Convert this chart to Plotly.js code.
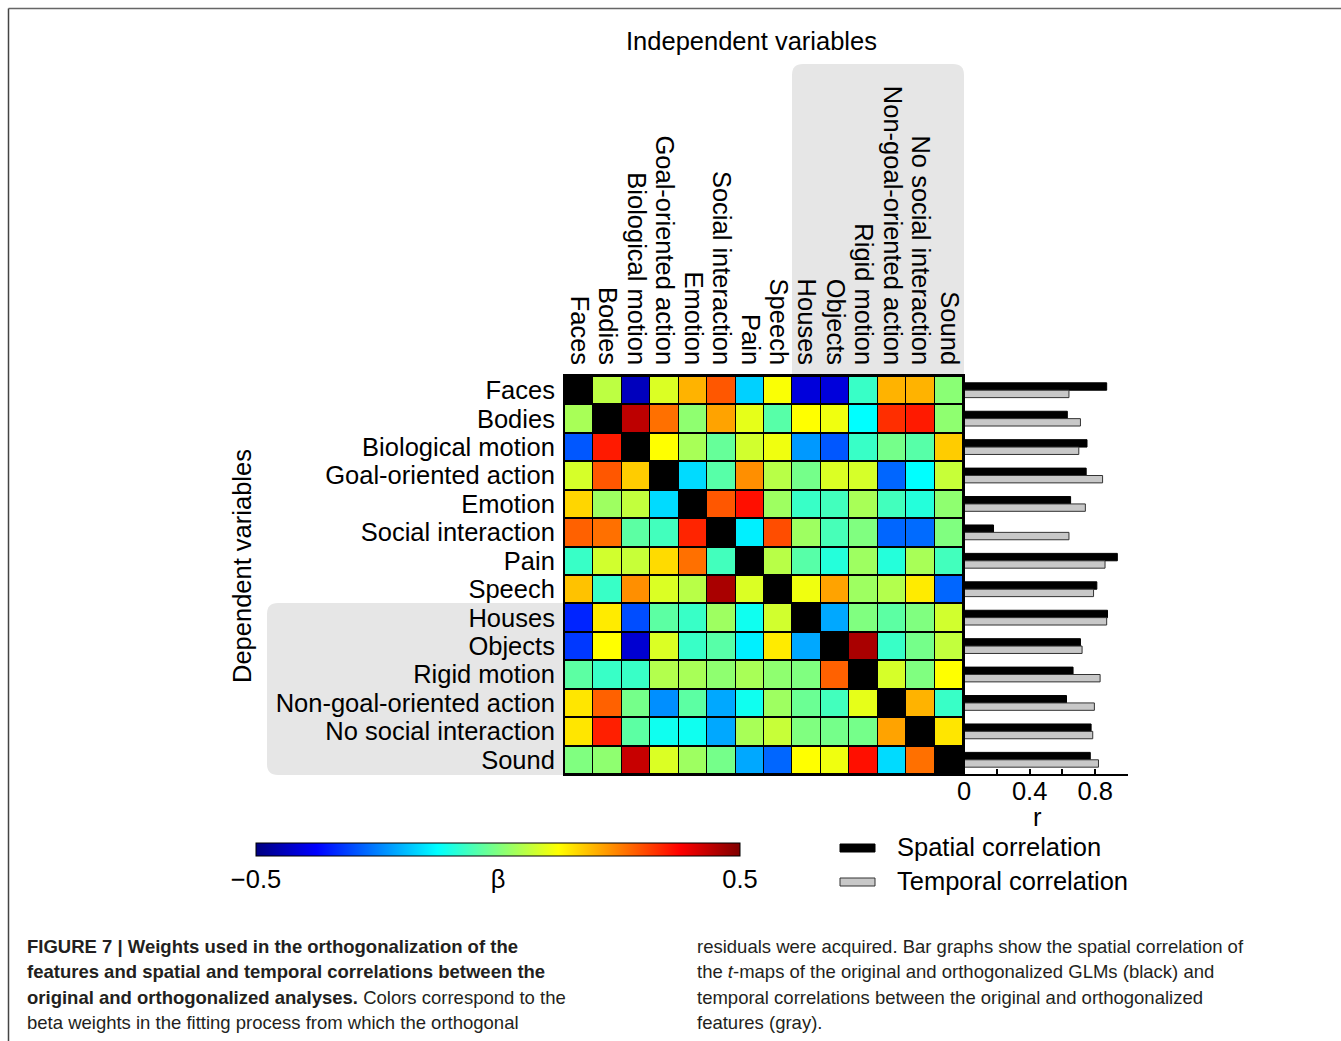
<!DOCTYPE html>
<html>
<head>
<meta charset="utf-8">
<script src="https://cdn.plot.ly/plotly-3.0.1.min.js"></script>
<style>
  html, body { margin: 0; padding: 0; background: #fff; }
  #chart { width: 1341px; height: 1041px; }
</style>
</head>
<body>
<div id="chart"></div>
<script>
// ---------------- DATA ----------------
const variables = ["Faces", "Bodies", "Biological motion", "Goal-oriented action", "Emotion",
  "Social interaction", "Pain", "Speech", "Houses", "Objects", "Rigid motion",
  "Non-goal-oriented action", "No social interaction", "Sound"];

// beta weights: one row per dependent variable, columns = independent variables (diagonal empty)
const betaFaces      = [null, 0.06, -0.44, 0.09, 0.20, 0.29, -0.17, 0.12, -0.41, -0.41, -0.07, 0.20, 0.20, 0.01];
const betaBodies     = [0.04, null, 0.44, 0.265, 0.015, 0.215, 0.10, -0.04, 0.125, 0.11, -0.125, 0.33, 0.35, 0.015];
const betaBioMotion  = [-0.29, 0.35, null, 0.125, 0.04, -0.025, 0.08, 0.11, -0.225, -0.29, -0.07, -0.01, -0.04, 0.175];
const betaGoal       = [0.085, 0.29, 0.175, null, -0.16, -0.04, 0.235, 0.055, -0.01, 0.09, 0.085, -0.275, -0.125, 0.07];
const betaEmotion    = [0.165, 0.03, 0.065, -0.16, null, 0.29, 0.36, 0.03, -0.07, -0.06, 0.04, -0.06, -0.09, 0.015];
const betaSocial     = [0.28, 0.265, -0.035, -0.06, 0.34, null, -0.14, 0.30, 0.03, -0.055, 0.0, -0.275, -0.27, 0.0];
const betaPain       = [-0.07, 0.08, 0.07, 0.16, 0.265, -0.06, null, 0.055, -0.04, -0.09, 0.03, -0.09, 0.04, -0.06];
const betaSpeech     = [0.185, -0.07, 0.235, 0.09, 0.055, 0.46, 0.09, null, 0.11, 0.215, 0.03, 0.05, 0.145, -0.275];
const betaHouses     = [-0.34, 0.145, -0.30, -0.035, -0.07, 0.03, -0.11, 0.08, null, -0.21, 0.0, -0.035, 0.0, 0.08];
const betaObjects    = [-0.32, 0.125, -0.42, 0.09, -0.07, -0.04, -0.14, 0.145, -0.21, null, 0.46, -0.07, -0.01, 0.065];
const betaRigid      = [-0.035, -0.07, -0.07, 0.05, 0.04, 0.015, 0.04, 0.015, 0.0, 0.28, null, 0.085, 0.0, 0.125];
const betaNonGoal    = [0.15, 0.28, -0.01, -0.235, -0.035, -0.21, -0.11, 0.03, -0.02, -0.06, 0.10, null, 0.20, -0.07];
const betaNoSocial   = [0.15, 0.345, -0.035, -0.11, -0.11, -0.21, 0.04, 0.07, 0.0, -0.01, -0.01, 0.215, null, 0.15];
const betaSound      = [0.0, 0.015, 0.43, 0.09, 0.03, -0.01, -0.21, -0.275, 0.125, 0.11, 0.36, -0.16, 0.265, null];

const spatialCorr  = [0.87, 0.63, 0.75, 0.745, 0.65, 0.18, 0.935, 0.81, 0.875, 0.71, 0.665, 0.625, 0.775, 0.77];
const temporalCorr = [0.64, 0.71, 0.70, 0.845, 0.74, 0.64, 0.86, 0.79, 0.87, 0.72, 0.83, 0.795, 0.785, 0.82];

const rTickVals  = [0, 0.2, 0.4, 0.6, 0.8, 1.0];
const rTickText  = ["0", "", "0.4", "", "0.8", ""];
const betaTickVals = [-0.5, 0, 0.5];
const betaTickText = ["\u22120.5", "\u03b2", "0.5"];

// ---------------- LAYOUT HELPERS ----------------
const W = 1341, H = 1041;
const X = px => px / W;
const Y = py => 1 - py / H;
const FONT = "Liberation Sans, Arial, Helvetica, sans-serif";
const FS = 25.5;

const zMatrix = [betaFaces, betaBodies, betaBioMotion, betaGoal, betaEmotion, betaSocial, betaPain,
  betaSpeech, betaHouses, betaObjects, betaRigid, betaNonGoal, betaNoSocial, betaSound];

const jet = [[0, "rgb(0,0,128)"], [0.125, "rgb(0,0,255)"], [0.375, "rgb(0,255,255)"],
             [0.625, "rgb(255,255,0)"], [0.875, "rgb(255,0,0)"], [1, "rgb(128,0,0)"]];

function roundRect(x0, y0, x1, y1, r, corners) {
  const c = Object.assign({tl: false, tr: false, br: false, bl: false}, corners);
  const P = (x, y) => X(x) + "," + Y(y);
  let d = "M" + P(x0 + (c.tl ? r : 0), y0);
  d += " L" + P(x1 - (c.tr ? r : 0), y0);
  if (c.tr) d += " Q" + P(x1, y0) + " " + P(x1, y0 + r);
  d += " L" + P(x1, y1 - (c.br ? r : 0));
  if (c.br) d += " Q" + P(x1, y1) + " " + P(x1 - r, y1);
  d += " L" + P(x0 + (c.bl ? r : 0), y1);
  if (c.bl) d += " Q" + P(x0, y1) + " " + P(x0, y1 - r);
  d += " L" + P(x0, y0 + (c.tl ? r : 0));
  if (c.tl) d += " Q" + P(x0, y0) + " " + P(x0 + r, y0);
  return d + " Z";
}

const hmL = 565, hmR = 963, hmT = 376, hmB = 774;
const barL = 964, barR = 1128;

const heat = {
  type: "heatmap",
  z: zMatrix,
  x: variables,
  y: variables,
  colorscale: jet,
  zmin: -0.5, zmax: 0.5,
  xgap: 1, ygap: 2,
  hoverongaps: false,
  colorbar: {
    orientation: "h",
    x: X(498), xanchor: "center",
    y: Y(843), yanchor: "top",
    len: 484, lenmode: "pixels",
    thickness: 13, thicknessmode: "pixels",
    xpad: 0, ypad: 0,
    outlinewidth: 1, outlinecolor: "#000",
    tickvals: betaTickVals, ticktext: betaTickText,
    ticks: "", ticklabelstandoff: 3,
    tickfont: {family: FONT, size: FS, color: "#000"}
  },
  xaxis: "x", yaxis: "y"
};

const barSpatial = {
  type: "bar", orientation: "h", name: "Spatial correlation",
  x: spatialCorr, y: variables,
  marker: {color: "#000", line: {color: "#000", width: 1}},
  xaxis: "x2", yaxis: "y2", showlegend: false
};
const barTemporal = {
  type: "bar", orientation: "h", name: "Temporal correlation",
  x: temporalCorr, y: variables,
  marker: {color: "#c8c8c8", line: {color: "#333", width: 1}},
  xaxis: "x2", yaxis: "y2", showlegend: false
};

const capFont = {family: FONT, size: 18.5, color: "#231f20"};
const leftCap = [
  "<b>FIGURE 7 | Weights used in the orthogonalization of the</b>",
  "<b>features and spatial and temporal correlations between the</b>",
  "<b>original and orthogonalized analyses.</b> Colors correspond to the",
  "beta weights in the fitting process from which the orthogonal"
];
const rightCap = [
  "residuals were acquired. Bar graphs show the spatial correlation of",
  "the <i>t</i>-maps of the original and orthogonalized GLMs (black) and",
  "temporal correlations between the original and orthogonalized",
  "features (gray)."
];
const capY = [946, 971, 997, 1022];

const annotations = [
  {text: "Independent variables", x: X(751), y: Y(41), xref: "paper", yref: "paper",
   showarrow: false, xanchor: "center", yanchor: "middle", font: {family: FONT, size: FS, color: "#000"}},
  {text: "Dependent variables", x: X(242), y: Y(566), xref: "paper", yref: "paper", textangle: -90,
   showarrow: false, xanchor: "center", yanchor: "middle", font: {family: FONT, size: FS, color: "#000"}},
  {text: "r", x: X(1037), y: Y(817), xref: "paper", yref: "paper",
   showarrow: false, xanchor: "center", yanchor: "middle", font: {family: FONT, size: FS, color: "#000"}},
  {text: "Spatial correlation", x: X(895), y: Y(847), xref: "paper", yref: "paper",
   showarrow: false, xanchor: "left", yanchor: "middle", font: {family: FONT, size: FS, color: "#000"}},
  {text: "Temporal correlation", x: X(895), y: Y(881), xref: "paper", yref: "paper",
   showarrow: false, xanchor: "left", yanchor: "middle", font: {family: FONT, size: FS, color: "#000"}}
];
leftCap.forEach((t, i) => annotations.push({text: t, x: X(25), y: Y(capY[i]), xref: "paper", yref: "paper",
  showarrow: false, xanchor: "left", yanchor: "middle", font: capFont}));
rightCap.forEach((t, i) => annotations.push({text: t, x: X(695), y: Y(capY[i]), xref: "paper", yref: "paper",
  showarrow: false, xanchor: "left", yanchor: "middle", font: capFont}));

const shapes = [
  {type: "line", xref: "paper", yref: "paper", x0: X(8.5), x1: X(1341), y0: Y(8.5), y1: Y(8.5), line: {color: "#666", width: 1.5}},
  {type: "line", xref: "paper", yref: "paper", x0: X(8.5), x1: X(8.5), y0: Y(8.5), y1: Y(1041), line: {color: "#444", width: 1.5}},
  {type: "path", xref: "paper", yref: "paper", layer: "below", path: roundRect(792, 64, 964, hmT, 11, {tl: true, tr: true}),
   fillcolor: "#e6e6e6", line: {width: 0}},
  {type: "path", xref: "paper", yref: "paper", layer: "below", path: roundRect(267, 603, hmL, 775, 11, {tl: true, bl: true}),
   fillcolor: "#e6e6e6", line: {width: 0}},
  {type: "rect", xref: "paper", yref: "paper", layer: "below", x0: X(hmL), x1: X(hmR), y0: Y(hmB), y1: Y(hmT),
   fillcolor: "#000", line: {width: 0}},
  {type: "rect", xref: "paper", yref: "paper", layer: "above", x0: X(hmL - 1), x1: X(hmR + 1), y0: Y(hmB + 1), y1: Y(hmT - 1),
   fillcolor: "rgba(0,0,0,0)", line: {color: "#000", width: 2}},
  {type: "rect", xref: "paper", yref: "paper", x0: X(840), x1: X(875), y0: Y(852), y1: Y(844),
   fillcolor: "#000", line: {color: "#000", width: 1}},
  {type: "rect", xref: "paper", yref: "paper", x0: X(840), x1: X(875), y0: Y(886), y1: Y(878),
   fillcolor: "#c8c8c8", line: {color: "#333", width: 1}}
];

const layout = {
  width: W, height: H,
  margin: {l: 0, r: 0, t: 0, b: 0, pad: 0},
  paper_bgcolor: "#fff",
  plot_bgcolor: "rgba(0,0,0,0)",
  font: {family: FONT, size: FS, color: "#000"},
  showlegend: false,
  bargap: 0.48, bargroupgap: 0,
  barmode: "group",
  xaxis: {
    domain: [X(hmL), X(hmR)], anchor: "y", side: "top",
    type: "category", categoryorder: "array", categoryarray: variables,
    tickmode: "array", tickvals: variables, ticktext: variables,
    tickangle: 90, ticks: "outside", ticklen: 1, tickcolor: "rgba(0,0,0,0)",
    tickfont: {family: FONT, size: FS, color: "#000"},
    showgrid: false, zeroline: false, showline: false, fixedrange: true
  },
  yaxis: {
    domain: [Y(hmB), Y(hmT)], anchor: "x",
    type: "category", categoryorder: "array", categoryarray: variables, autorange: "reversed",
    tickmode: "array", tickvals: variables, ticktext: variables,
    ticks: "outside", ticklen: 4, tickcolor: "rgba(0,0,0,0)",
    tickfont: {family: FONT, size: FS, color: "#000"},
    showgrid: false, zeroline: false, showline: false, fixedrange: true
  },
  xaxis2: {
    domain: [X(barL), X(barR)], anchor: "y2", range: [0, 1.0],
    tickmode: "array", tickvals: rTickVals, ticktext: rTickText,
    ticks: "inside", ticklen: 5, tickwidth: 2, tickcolor: "#000",
    ticklabelstandoff: -7,
    showline: true, linewidth: 2, linecolor: "#000",
    showgrid: false, zeroline: false,
    tickfont: {family: FONT, size: FS, color: "#000"},
    fixedrange: true
  },
  yaxis2: {
    domain: [Y(hmB), Y(hmT)], anchor: "x2",
    type: "category", categoryorder: "array", categoryarray: variables, autorange: "reversed",
    showticklabels: false, ticks: "", showgrid: false, zeroline: false, showline: false,
    fixedrange: true
  },
  shapes: shapes,
  annotations: annotations
};

Plotly.newPlot("chart", [heat, barSpatial, barTemporal], layout, {displayModeBar: false, staticPlot: true});
</script>
</body>
</html>
